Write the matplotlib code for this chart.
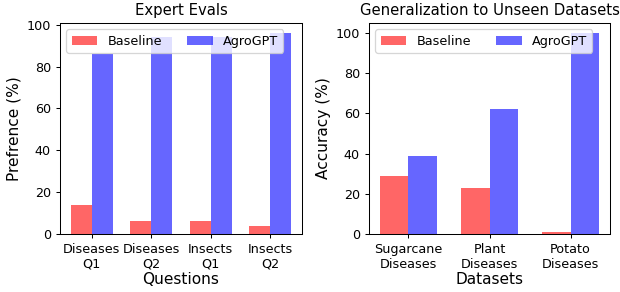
import numpy as np
import matplotlib
matplotlib.use("Agg")
import matplotlib.pyplot as plt

# expert evaluation
questions = ["Diseases\nQ1", "Diseases\nQ2", "Insects\nQ1", "Insects\nQ2"]
expert_baseline = [14, 6, 6, 4]
expert_agrogpt = [86, 94, 94, 96]

# unseen datasets
datasets = ["Sugarcane\nDiseases", "Plant\nDiseases", "Potato\nDiseases"]
acc_baseline = [29, 23, 1]
acc_agrogpt = [39, 62, 100]

width = 0.35
DPI = 92

fig = plt.figure(figsize=(620 / DPI, 292 / DPI), dpi=DPI)
ax1 = fig.add_axes([60 / 620, 58 / 292, 242 / 620, 211 / 292])
ax2 = fig.add_axes([369 / 620, 58 / 292, 241 / 620, 211 / 292])

def draw(ax, labels, base, agro, title, xlabel, ylabel):
    x = np.arange(len(labels))
    ax.bar(x - width / 2, base, width, color="red", alpha=0.6, label="Baseline")
    ax.bar(x + width / 2, agro, width, color="blue", alpha=0.6, label="AgroGPT")
    ax.set_xticks(x)
    ax.set_xticklabels(labels, fontsize=10)
    ax.tick_params(axis="y", labelsize=10)
    ax.set_title(title, fontsize=11.7)
    ax.set_xlabel(xlabel, fontsize=12, labelpad=1)
    ax.set_ylabel(ylabel, fontsize=12)
    ax.legend(loc="upper left", ncol=2, fontsize=10)

draw(ax1, questions, expert_baseline, expert_agrogpt, "Expert Evals", "Questions", "Prefrence (%)")
draw(ax2, datasets, acc_baseline, acc_agrogpt, "Generalization to Unseen Datasets", "Datasets", "Accuracy (%)")

fig.savefig("out.png", dpi=DPI)
